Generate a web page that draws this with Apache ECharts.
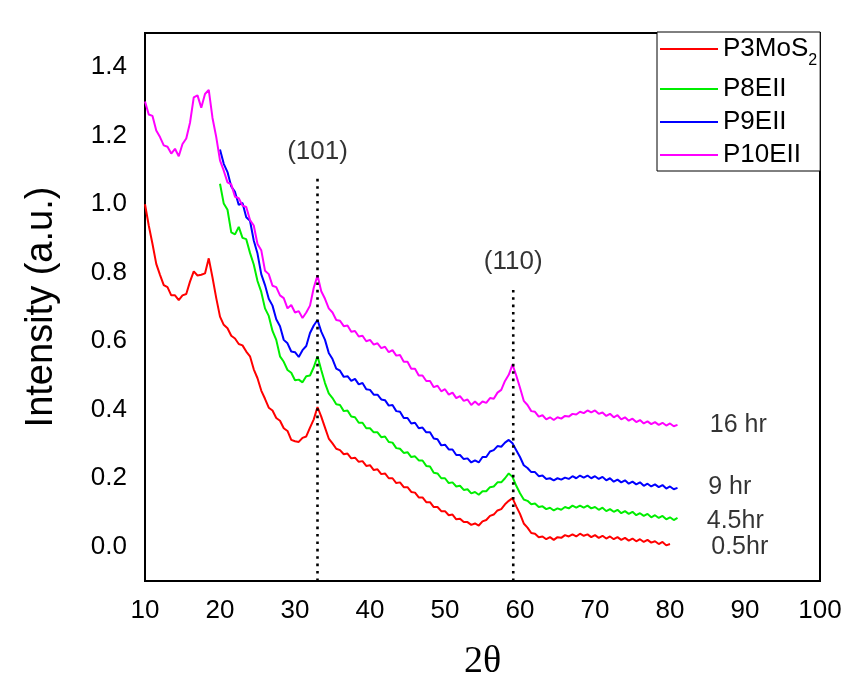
<!DOCTYPE html>
<html>
<head>
<meta charset="utf-8">
<script src="https://cdn.jsdelivr.net/npm/echarts@6/dist/echarts.min.js"></script>
<style>
  html, body { margin: 0; padding: 0; background: #fff; }
  #main { width: 852px; height: 683px; }
</style>
</head>
<body>
<div id="main"></div>
<script>
// XRD patterns, 2θ sampled every 0.5 degree
var angleStep = 0.5;

// P3MoS2 (0.5 hr), 2θ 10 -> 80
var p3StartAngle = 10;
var p3mos2 = [
  1.000, 0.938, 0.884, 0.826, 0.794, 0.764, 0.758, 0.734, 0.734, 0.720,
  0.734, 0.738, 0.774, 0.804, 0.792, 0.794, 0.798, 0.842, 0.786, 0.726,
  0.672, 0.648, 0.638, 0.616, 0.608, 0.592, 0.588, 0.570, 0.556, 0.518,
  0.492, 0.456, 0.432, 0.406, 0.398, 0.376, 0.368, 0.346, 0.338, 0.312,
  0.308, 0.306, 0.318, 0.322, 0.348, 0.372, 0.408, 0.380, 0.348, 0.316,
  0.302, 0.286, 0.282, 0.270, 0.272, 0.258, 0.260, 0.248, 0.250, 0.236,
  0.238, 0.224, 0.226, 0.212, 0.214, 0.200, 0.200, 0.186, 0.188, 0.174,
  0.174, 0.160, 0.158, 0.144, 0.144, 0.130, 0.130, 0.116, 0.116, 0.104,
  0.104, 0.092, 0.094, 0.080, 0.082, 0.072, 0.072, 0.064, 0.068, 0.062,
  0.074, 0.078, 0.090, 0.094, 0.106, 0.110, 0.124, 0.134, 0.142, 0.118,
  0.096, 0.068, 0.056, 0.040, 0.038, 0.028, 0.030, 0.022, 0.028, 0.020,
  0.028, 0.026, 0.034, 0.030, 0.036, 0.030, 0.038, 0.032, 0.036, 0.028,
  0.034, 0.026, 0.032, 0.024, 0.030, 0.022, 0.028, 0.020, 0.026, 0.018,
  0.024, 0.016, 0.022, 0.014, 0.020, 0.012, 0.016, 0.008, 0.014, 0.004,
  0.008
];

// P8EII (4.5 hr), 2θ 20 -> 81
var p8StartAngle = 20;
var p8eii = [
  1.060, 1.002, 0.984, 0.918, 0.912, 0.934, 0.902, 0.898, 0.858, 0.824,
  0.776, 0.744, 0.696, 0.674, 0.630, 0.604, 0.556, 0.540, 0.516, 0.508,
  0.486, 0.488, 0.480, 0.498, 0.500, 0.524, 0.556, 0.516, 0.478, 0.448,
  0.434, 0.416, 0.414, 0.396, 0.398, 0.380, 0.378, 0.362, 0.362, 0.346,
  0.346, 0.334, 0.334, 0.320, 0.322, 0.306, 0.304, 0.288, 0.286, 0.274,
  0.276, 0.262, 0.264, 0.252, 0.252, 0.236, 0.234, 0.216, 0.214, 0.200,
  0.200, 0.186, 0.188, 0.176, 0.178, 0.166, 0.168, 0.156, 0.160, 0.152,
  0.162, 0.162, 0.174, 0.176, 0.188, 0.188, 0.200, 0.214, 0.204, 0.178,
  0.156, 0.138, 0.134, 0.124, 0.126, 0.116, 0.118, 0.110, 0.114, 0.106,
  0.112, 0.108, 0.116, 0.112, 0.120, 0.114, 0.120, 0.114, 0.120, 0.112,
  0.116, 0.108, 0.114, 0.104, 0.110, 0.102, 0.108, 0.098, 0.104, 0.096,
  0.102, 0.092, 0.098, 0.090, 0.096, 0.086, 0.092, 0.084, 0.090, 0.080,
  0.086, 0.078, 0.084
];

// P9EII (9 hr), 2θ 20 -> 81
var p9StartAngle = 20;
var p9eii = [
  1.160, 1.118, 1.094, 1.052, 1.036, 0.998, 1.004, 0.962, 0.952, 0.894,
  0.856, 0.796, 0.764, 0.724, 0.704, 0.664, 0.644, 0.604, 0.594, 0.570,
  0.568, 0.554, 0.574, 0.586, 0.624, 0.646, 0.662, 0.628, 0.604, 0.566,
  0.548, 0.520, 0.514, 0.496, 0.498, 0.484, 0.490, 0.474, 0.478, 0.460,
  0.458, 0.444, 0.444, 0.430, 0.428, 0.412, 0.414, 0.396, 0.394, 0.376,
  0.376, 0.360, 0.362, 0.346, 0.348, 0.334, 0.334, 0.316, 0.314, 0.296,
  0.298, 0.284, 0.284, 0.268, 0.268, 0.256, 0.258, 0.246, 0.252, 0.246,
  0.262, 0.262, 0.278, 0.282, 0.294, 0.292, 0.304, 0.312, 0.302, 0.282,
  0.262, 0.238, 0.230, 0.218, 0.218, 0.206, 0.208, 0.198, 0.200, 0.194,
  0.200, 0.196, 0.202, 0.198, 0.206, 0.200, 0.208, 0.202, 0.208, 0.200,
  0.206, 0.198, 0.204, 0.194, 0.200, 0.190, 0.196, 0.188, 0.194, 0.184,
  0.190, 0.182, 0.188, 0.178, 0.184, 0.176, 0.182, 0.174, 0.180, 0.170,
  0.176, 0.168, 0.172
];

// P10EII (16 hr), 2θ 10 -> 81
var p10StartAngle = 10;
var p10eii = [
  1.300, 1.262, 1.258, 1.215, 1.196, 1.172, 1.168, 1.148, 1.162, 1.140,
  1.176, 1.192, 1.238, 1.312, 1.318, 1.282, 1.322, 1.334, 1.252, 1.196,
  1.128, 1.098, 1.064, 1.058, 1.022, 1.018, 0.996, 0.992, 0.954, 0.938,
  0.884, 0.866, 0.806, 0.796, 0.762, 0.758, 0.734, 0.726, 0.696, 0.706,
  0.684, 0.688, 0.668, 0.684, 0.704, 0.756, 0.792, 0.746, 0.724, 0.696,
  0.684, 0.662, 0.660, 0.644, 0.646, 0.628, 0.630, 0.614, 0.616, 0.600,
  0.604, 0.590, 0.594, 0.580, 0.584, 0.568, 0.574, 0.558, 0.560, 0.540,
  0.540, 0.520, 0.520, 0.500, 0.500, 0.484, 0.484, 0.466, 0.470, 0.454,
  0.460, 0.444, 0.450, 0.434, 0.440, 0.426, 0.430, 0.414, 0.424, 0.414,
  0.424, 0.420, 0.434, 0.432, 0.450, 0.458, 0.484, 0.502, 0.532, 0.500,
  0.464, 0.426, 0.414, 0.396, 0.394, 0.380, 0.384, 0.372, 0.378, 0.370,
  0.378, 0.374, 0.382, 0.380, 0.388, 0.386, 0.394, 0.390, 0.398, 0.392,
  0.398, 0.388, 0.392, 0.382, 0.388, 0.378, 0.384, 0.372, 0.378, 0.368,
  0.374, 0.364, 0.370, 0.360, 0.366, 0.358, 0.364, 0.356, 0.362, 0.354,
  0.360, 0.352, 0.356
];

var seriesNames = ['P3MoS2', 'P8EII', 'P9EII', 'P10EII'];
var seriesColors = ['#ff0000', '#00ee00', '#0000ff', '#ff00ff'];

// (hkl) reflections: position, top of dotted guide, label
var peakAngles = [33.0, 59.1];
var peakLineTops = [1.08, 0.75];
var peakLabels = ['(101)', '(110)'];
var peakLabelY = [1.153, 0.831];

// milling time labels next to curve ends
var timeLabels = ['16 hr', '9 hr', '4.5hr', '0.5hr'];
var timeLabelX = [85.3, 85.1, 84.9, 85.5];
var timeLabelY = [0.355, 0.174, 0.075, 0.0];

var yTicks = [0, 0.2, 0.4, 0.6, 0.8, 1.0, 1.2, 1.4];

function toPairs(start, values) {
  var out = [];
  for (var i = 0; i < values.length; i++) {
    out.push([start + i * angleStep, values[i]]);
  }
  return out;
}

var FONT = 'Liberation Sans, Arial, sans-serif';
var chart = echarts.init(document.getElementById('main'));

var curves = [
  toPairs(p3StartAngle, p3mos2),
  toPairs(p8StartAngle, p8eii),
  toPairs(p9StartAngle, p9eii),
  toPairs(p10StartAngle, p10eii)
];

var series = [];
for (var s = 0; s < curves.length; s++) {
  series.push({
    name: seriesNames[s],
    type: 'line',
    data: curves[s],
    showSymbol: false,
    symbol: 'none',
    lineStyle: { color: seriesColors[s], width: 2 },
    itemStyle: { color: seriesColors[s] },
    z: 3 + s
  });
}

// dotted guides at the reflections
for (var p = 0; p < peakAngles.length; p++) {
  series.push({
    name: 'guide' + p,
    type: 'line',
    data: [[peakAngles[p], -0.1], [peakAngles[p], peakLineTops[p]]],
    symbol: 'none',
    lineStyle: { color: '#000', width: 2.6, type: [2.6, 4.8] },
    z: 10,
    silent: true
  });
}

// text labels
var peakText = [];
for (var q = 0; q < peakAngles.length; q++) {
  peakText.push({ value: [peakAngles[q], peakLabelY[q]], name: peakLabels[q] });
}
series.push({
  name: 'peakText',
  type: 'scatter',
  symbolSize: 0,
  data: peakText,
  label: {
    show: true, position: 'inside', formatter: '{b}',
    color: '#000', fontFamily: FONT, fontSize: 26
  },
  silent: true,
  z: 11
});

var timeText = [];
for (var k = 0; k < timeLabels.length; k++) {
  timeText.push({ value: [timeLabelX[k], timeLabelY[k]], name: timeLabels[k] });
}
series.push({
  name: 'timeText',
  type: 'scatter',
  symbolSize: 0,
  data: timeText,
  label: {
    show: true, position: 'right', distance: 0, formatter: '{b}',
    color: '#000', fontFamily: FONT, fontSize: 25
  },
  silent: true,
  z: 11
});

var option = {
  backgroundColor: '#fff',
  animation: false,
  grid: {
    left: 145, right: 32, top: 33, bottom: 102,
    containLabel: false,
    outerBoundsMode: 'none',
    show: true, borderColor: '#000', borderWidth: 2, backgroundColor: 'transparent'
  },
  legend: {
    data: seriesNames.map(function (n, i) {
      return { name: n, icon: 'rect', itemStyle: { color: seriesColors[i] } };
    }),
    orient: 'vertical',
    left: 657, top: 32,
    padding: [4, 3, 3, 3],
    itemWidth: 58, itemHeight: 2, itemGap: 7,
    backgroundColor: '#fff',
    borderColor: '#000', borderWidth: 1, borderRadius: 0,
    selectedMode: false,
    formatter: function (name) {
      if (name === 'P3MoS2') return '{t|P3MoS}{sub|2}';
      return '{t|' + name + '}';
    },
    textStyle: {
      rich: {
        t: { fontFamily: FONT, fontSize: 26, color: '#000', lineHeight: 30 },
        sub: { fontFamily: FONT, fontSize: 16, color: '#000', verticalAlign: 'bottom', lineHeight: 40, padding: [14, 0, 0, 0] }
      }
    }
  },
  xAxis: {
    type: 'value',
    min: 10, max: 100, interval: 10,
    name: '2θ',
    nameLocation: 'middle',
    nameGap: 62,
    nameTextStyle: { fontFamily: 'Liberation Serif, Times New Roman, serif', fontSize: 38, color: '#000' },
    axisLine: { show: false },
    axisTick: { show: false },
    splitLine: { show: false },
    axisLabel: { color: '#000', fontFamily: FONT, fontSize: 26, margin: 17 }
  },
  yAxis: {
    type: 'value',
    min: -0.1, max: 1.5,
    name: 'Intensity (a.u.)',
    nameLocation: 'middle',
    nameGap: 84,
    nameTextStyle: { fontFamily: FONT, fontSize: 38, color: '#000' },
    axisLine: { show: false },
    axisTick: { show: false },
    splitLine: { show: false },
    axisLabel: {
      color: '#000', fontFamily: FONT, fontSize: 26, margin: 18,
      customValues: yTicks,
      formatter: function (v) { return v.toFixed(1); }
    }
  },
  series: series
};

chart.setOption(option);
</script>
</body>
</html>
